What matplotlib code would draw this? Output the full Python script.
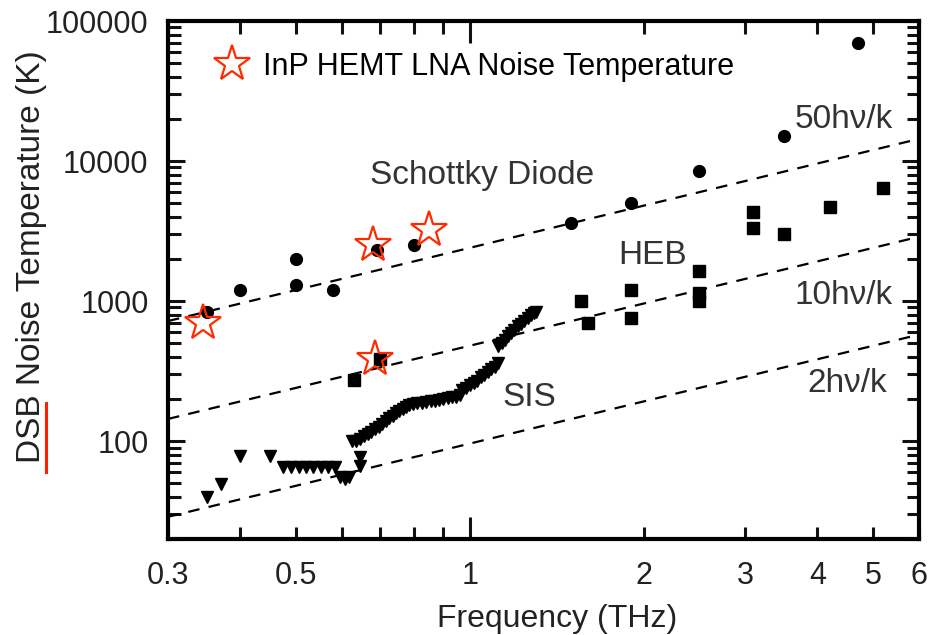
#!/usr/bin/env python3
"""
DSB noise temperature of THz mixers vs frequency, with InP HEMT LNA points
"""
import numpy as np
import matplotlib
matplotlib.use('Agg')
import matplotlib.pyplot as plt
from matplotlib.lines import Line2D
from matplotlib.ticker import FixedLocator, NullFormatter

plt.rcParams['font.family'] = ['Liberation Sans', 'DejaVu Sans']

# Schottky diode mixers (THz, K)
schottky_f = [0.35, 0.40, 0.50, 0.50, 0.58, 0.69, 0.80, 1.50, 1.90, 2.50, 3.50, 4.70]
schottky_t = [830, 1200, 2000, 1300, 1200, 2300, 2500, 3600, 5000, 8500, 15000, 70000]

# HEB mixers
heb_f = [0.63, 0.70, 1.56, 1.60, 1.90, 1.90, 2.50, 2.50, 2.50, 3.10, 3.10, 3.50, 4.20, 5.20]
heb_t = [275, 385, 1000, 700, 1200, 760, 1650, 1150, 1000, 4300, 3350, 3000, 4700, 6400]

# SIS mixers
sis_f = [0.35, 0.37, 0.40, 0.45,
         0.475, 0.49, 0.505, 0.52, 0.535, 0.552, 0.568, 0.584,
         0.597, 0.607, 0.617, 0.645, 0.645,
         0.625, 0.635, 0.645, 0.655, 0.665, 0.675, 0.685, 0.695, 0.705,
         0.715, 0.725, 0.735, 0.745, 0.755, 0.765, 0.775, 0.785, 0.797,
         0.81, 0.825, 0.84, 0.855, 0.87, 0.885, 0.90, 0.915, 0.93, 0.945, 0.96,
         0.97, 0.985, 1.0, 1.015, 1.03, 1.045, 1.06, 1.075, 1.09, 1.105, 1.12,
         1.12, 1.135, 1.15, 1.165, 1.18, 1.195, 1.21, 1.225, 1.24, 1.26,
         1.275, 1.29, 1.30]
sis_t = [40, 49, 78, 78,
         65, 65, 65, 65, 65, 65, 65, 65,
         55, 54, 55, 77, 66,
         100, 101, 103, 108, 112, 117, 122, 127, 133,
         140, 146, 151, 158, 164, 170, 175, 180, 184,
         186, 188, 190, 192, 194, 196, 199, 202, 205, 207, 213,
         230, 240, 251, 262, 270, 285, 297, 310, 325, 340, 360,
         480, 505, 530, 560, 595, 625, 660, 690, 720, 760,
         795, 820, 830]

# InP HEMT LNA noise temperature
lna_f = [0.345, 0.68, 0.85, 0.685]
lna_t = [700, 2500, 3200, 385]

# N*h*nu/k reference lines
nhk = [50, 10, 2]
h_over_k = 47.99  # K per THz

fig = plt.figure(figsize=(9.3, 6.35), dpi=100)
ax = fig.add_axes([0.1806, 0.1512, 0.8075, 0.8157])

fgrid = np.array([0.3, 6.0])
for n in nhk:
    ax.plot(fgrid, n * h_over_k * fgrid, color='k', lw=1.6,
            dashes=(5.2, 4.2), zorder=2)

ax.plot(schottky_f, schottky_t, 'o', color='k', ms=8.5, zorder=3)
ax.plot(heb_f, heb_t, 's', color='k', ms=8, zorder=3)
ax.plot(sis_f, sis_t, 'v', color='k', ms=9, zorder=3)
ax.plot(lna_f, lna_t, '*', mfc='none', mec='#ff2a00', mew=1.6, ms=27,
        zorder=4, label='InP HEMT LNA Noise Temperature')

ax.set_xscale('log')
ax.set_yscale('log')
ax.set_xlim(0.3, 6)
ax.set_ylim(20, 100000)

ax.xaxis.set_major_locator(FixedLocator([0.3, 0.5, 1, 2, 3, 4, 5, 6]))
ax.xaxis.set_minor_locator(FixedLocator([0.4, 0.6, 0.7, 0.8, 0.9]))
ax.set_xticklabels(['0.3', '0.5', '1', '2', '3', '4', '5', '6'])
ax.xaxis.set_minor_formatter(NullFormatter())
ax.set_yticks([100, 1000, 10000, 100000])
ax.set_yticklabels(['100', '1000', '10000', '100000'])
ax.yaxis.set_minor_formatter(NullFormatter())

for sp in ax.spines.values():
    sp.set_linewidth(3)
ax.tick_params(which='both', direction='in', top=True, right=True,
               width=2.2, color='#111111', length=9)
ax.tick_params(axis='y', which='major', length=12)
ax.tick_params(labelcolor='#222222', labelsize=22)
ax.tick_params(axis='x', pad=16)
ax.tick_params(axis='y', pad=14)

ax.set_xlabel('Frequency (THz)', fontsize=23, color='#222222')
ax.set_ylabel('DSB Noise Temperature (K)', fontsize=24, color='#222222')
ax.xaxis.set_label_coords(0.518, -0.125)
ax.yaxis.set_label_coords(-0.161, 0.546)

txt = dict(fontsize=24, color='#333333', va='center', ha='left')
ax.text(0.671, 7870, 'Schottky Diode', **txt)
ax.text(1.81, 2116, 'HEB', **txt)
ax.text(1.14, 206, 'SIS', **txt)
ax.text(3.65, 19730, '50h\u03bd/k', **txt)
ax.text(3.65, 1098, '10h\u03bd/k', **txt)
ax.text(3.85, 259, '2h\u03bd/k', **txt)

ax.legend(loc='center left', bbox_to_anchor=(0.045, 0.912), frameon=False,
          fontsize=22, handlelength=1.0, handletextpad=0.5, borderpad=0,
          labelcolor='black')

# red mark next to the axis title
fig.add_artist(Line2D([0.0495, 0.0495], [0.365, 0.257], color='#ff2200',
                      lw=2.2))

# longer tick at 1 THz
one = ax.xaxis.get_major_ticks()[2]
one.tick1line.set_markersize(16)
one.tick2line.set_markersize(16)

fig.savefig('out.png', dpi=100)
